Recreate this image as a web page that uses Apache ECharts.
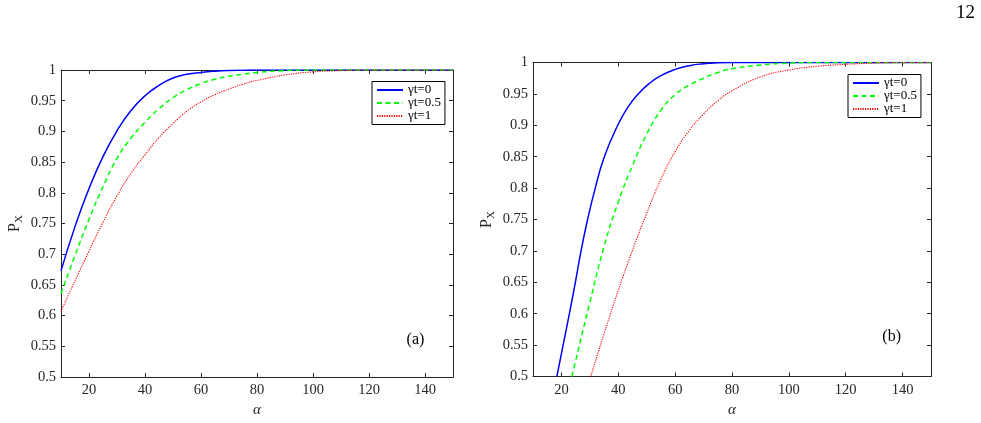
<!DOCTYPE html>
<html>
<head>
<meta charset="utf-8">
<script src="https://cdn.jsdelivr.net/npm/echarts@6/dist/echarts.min.js"></script>
<style>
html, body { margin: 0; padding: 0; background: #fff; }
#chart { width: 981px; height: 423px; }
</style>
</head>
<body>
<div id="chart"></div>
<script>
// 数据 (a)
const alphaA = [10, 15, 20, 25, 30, 35, 40, 45, 50, 55, 60, 65, 70, 75, 80, 90, 100, 110, 120, 130, 140, 150];
const pA0 = [0.673, 0.745, 0.807, 0.859, 0.901, 0.934, 0.958, 0.975, 0.987, 0.993, 0.996, 0.998, 0.9992, 0.9997, 1, 1, 1, 1, 1, 1, 1, 1];
const pA05 = [0.636, 0.698, 0.757, 0.810, 0.856, 0.889, 0.915, 0.937, 0.955, 0.968, 0.978, 0.985, 0.990, 0.993, 0.996, 0.999, 1, 1, 1, 1, 1, 1];
const pA1 = [0.607, 0.657, 0.705, 0.752, 0.795, 0.832, 0.862, 0.890, 0.913, 0.933, 0.948, 0.960, 0.969, 0.977, 0.983, 0.992, 0.997, 0.999, 1, 1, 1, 1];

// 数据 (b)
const alphaB0 = [18.4, 20.6, 22.8, 24.9, 26.9, 29.2, 31.9, 35.1, 39.8, 43.4, 47, 51, 55, 60, 65, 70, 75, 80, 100, 150];
const pB0 = [0.5, 0.55, 0.6, 0.65, 0.7, 0.75, 0.8, 0.85, 0.9, 0.929, 0.95, 0.967, 0.979, 0.989, 0.995, 0.998, 0.9995, 1, 1, 1];
const alphaB05 = [23.7, 25, 30, 35, 40, 45, 50, 55, 60, 65, 70, 75, 80, 90, 100, 110, 150];
const pB05 = [0.5, 0.525, 0.618, 0.707, 0.778, 0.836, 0.886, 0.924, 0.949, 0.964, 0.975, 0.984, 0.990, 0.996, 0.999, 1, 1];
const alphaB1 = [30.3, 35, 40, 45, 50, 55, 60, 65, 70, 75, 80, 90, 100, 110, 120, 130, 140, 150];
const pB1 = [0.5, 0.568, 0.637, 0.701, 0.760, 0.814, 0.858, 0.892, 0.918, 0.939, 0.955, 0.977, 0.988, 0.994, 0.997, 0.999, 1, 1];

const names = ['γt=0', 'γt=0.5', 'γt=1'];
const panelLabels = ['(a)', '(b)'];
const pageNumber = '12';
const xMin = 10, xMax = 150, xStep = 20;
const yMin = 0.5, yMax = 1, yStep = 0.05;

const font = '"Liberation Serif", "Times New Roman", serif';
const axisColor = '#262626';

const styles = [
	{ color: '#0000ff', width: 1.5, type: 'solid' },
	{ color: '#00ff00', width: 1.5, type: [5, 3.5] },
	{ color: '#ff0000', width: 1.1, type: [1.2, 1.2] }
];

const chart = echarts.init(document.getElementById('chart'), null, { renderer: 'canvas' });

const grids = [
	{ left: 61, top: 70, width: 392, height: 309 },
	{ left: 533, top: 62.5, width: 398, height: 314 }
];

const xAxes = [];
const yAxes = [];
grids.forEach((g, i) => {
	const common = {
		type: 'value', gridIndex: i, min: xMin, max: xMax,
		splitNumber: 7, minInterval: xStep, maxInterval: xStep,
		axisLine: { show: true, onZero: false, lineStyle: { color: axisColor, width: 1 } },
		axisTick: { show: true, inside: true, length: 4, lineStyle: { color: axisColor } },
		splitLine: { show: false }
	};
	xAxes.push(Object.assign({}, common, {
		position: 'bottom',
		axisLabel: { margin: 6, color: axisColor, fontFamily: font, fontSize: 14.5, showMinLabel: false, showMaxLabel: false },
		name: 'α', nameLocation: 'middle', nameGap: 23,
		nameTextStyle: { fontFamily: font, fontStyle: 'italic', fontSize: 15, color: axisColor }
	}));
	xAxes.push(Object.assign({}, common, { position: 'top', axisLabel: { show: false } }));

	const ycommon = {
		type: 'value', gridIndex: i, min: yMin, max: yMax, interval: yStep,
		axisLine: { show: true, onZero: false, lineStyle: { color: axisColor, width: 1 } },
		axisTick: { show: true, inside: true, length: 4, lineStyle: { color: axisColor } },
		splitLine: { show: false }
	};
	yAxes.push(Object.assign({}, ycommon, {
		position: 'left',
		axisLabel: { margin: 5, color: axisColor, fontFamily: font, fontSize: 14.5 },
		name: '{p|P}{s|X}', nameLocation: 'middle', nameGap: 36, nameRotate: 90,
		nameTextStyle: {
			color: axisColor,
			rich: {
				p: { fontFamily: font, fontSize: 16, color: axisColor },
				s: { fontFamily: font, fontSize: 11, color: axisColor, padding: [9, 0, 0, 0] }
			}
		}
	}));
	yAxes.push(Object.assign({}, ycommon, { position: 'right', axisLabel: { show: false } }));
});

const curve = (name, xs, ys, panel, k) => ({
	name: name, type: 'line', xAxisIndex: panel * 2, yAxisIndex: panel * 2,
	data: xs.map((x, i) => [x, ys[i]]),
	symbol: 'none', smooth: true, clip: true, silent: true,
	lineStyle: styles[k], itemStyle: { color: styles[k].color }
});

const series = [
	curve(names[0], alphaA, pA0, 0, 0),
	curve(names[1], alphaA, pA05, 0, 1),
	curve(names[2], alphaA, pA1, 0, 2),
	curve(names[0], alphaB0, pB0, 1, 0),
	curve(names[1], alphaB05, pB05, 1, 1),
	curve(names[2], alphaB1, pB1, 1, 2)
];

// 图例：只画线，不要圆点
const legendBase = {
	orient: 'vertical', data: names, itemWidth: 26, itemGap: 0,
	backgroundColor: '#fff', borderColor: '#000', borderWidth: 1,
	padding: [2, 4, 2, 4], selectedMode: false,
	itemStyle: { opacity: 0 },
	textStyle: { fontFamily: font, fontSize: 13, color: '#000' }
};

const option = {
	animation: false,
	backgroundColor: '#fff',
	grid: grids,
	xAxis: xAxes,
	yAxis: yAxes,
	legend: [
		Object.assign({}, legendBase, { left: 372, top: 81.5, itemHeight: 14.5 }),
		Object.assign({}, legendBase, { left: 848, top: 74.5, itemHeight: 15 })
	],
	graphic: [
		{ type: 'text', x: 415.5, y: 340, style: { text: panelLabels[0], fontFamily: font, fontSize: 16, fill: '#000', align: 'center', verticalAlign: 'middle' } },
		{ type: 'text', x: 891.7, y: 337, style: { text: panelLabels[1], fontFamily: font, fontSize: 16, fill: '#000', align: 'center', verticalAlign: 'middle' } },
		{ type: 'text', x: 965.5, y: 13, style: { text: pageNumber, fontFamily: font, fontSize: 19, fill: '#000', align: 'center', verticalAlign: 'middle' } }
	],
	series: series
};

chart.setOption(option);
</script>
</body>
</html>
